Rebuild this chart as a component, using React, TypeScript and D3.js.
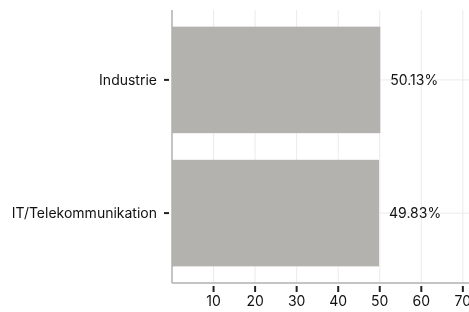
import React, { useEffect, useRef } from 'react';
import * as d3 from 'd3';

const categories = ['Industrie', 'IT/Telekommunikation'];
const values = [50.13, 49.83];
const xTicks = [10, 20, 30, 40, 50, 60, 70];

const App: React.FC = () => {
  const svgRef = useRef<SVGSVGElement>(null);

  useEffect(() => {
    if (!svgRef.current) return;
    const svg = d3.select(svgRef.current);
    svg.selectAll('*').remove();

    const width = 469;
    const height = 312;
    const left = 172;
    const top = 10;
    const bottom = 283;

    svg.attr('width', width).attr('height', height);

    const x = d3.scaleLinear().domain([0, 75]).range([left, left + 75 * 4.155]);
    const y = d3.scaleBand<string>()
      .domain(categories)
      .range([top, bottom])
      .paddingInner(0.2)
      .paddingOuter(0.125);

    const font = 'Inter, "Noto Sans", sans-serif';

    // grid
    const grid = svg.append('g');
    grid.selectAll('line.v')
      .data(xTicks)
      .join('line')
      .attr('x1', d => x(d)).attr('x2', d => x(d))
      .attr('y1', top).attr('y2', bottom)
      .style('stroke', '#ebebeb').style('stroke-width', 1);
    grid.selectAll('line.h')
      .data(categories)
      .join('line')
      .attr('x1', left).attr('x2', width)
      .attr('y1', d => (y(d) ?? 0) + y.bandwidth() / 2)
      .attr('y2', d => (y(d) ?? 0) + y.bandwidth() / 2)
      .style('stroke', '#ebebeb').style('stroke-width', 1);

    // bars
    svg.append('g')
      .selectAll('rect')
      .data(categories)
      .join('rect')
      .attr('x', x(0))
      .attr('y', d => y(d) ?? 0)
      .attr('width', (d, i) => x(values[i]) - x(0))
      .attr('height', y.bandwidth())
      .style('fill', '#b3b2ae');

    // value labels
    svg.append('g')
      .selectAll('text')
      .data(categories)
      .join('text')
      .attr('x', (d, i) => x(values[i]) + 10)
      .attr('y', d => (y(d) ?? 0) + y.bandwidth() / 2)
      .attr('dy', '0.35em')
      .style('font-family', font)
      .style('font-size', '14px')
      .style('fill', '#111')
      .text((d, i) => values[i].toFixed(2) + '%');

    // axes lines
    svg.append('line')
      .attr('x1', left).attr('x2', left)
      .attr('y1', top).attr('y2', bottom)
      .style('stroke', '#b0b0b0').style('stroke-width', 1.5);
    svg.append('line')
      .attr('x1', left).attr('x2', width)
      .attr('y1', bottom).attr('y2', bottom)
      .style('stroke', '#b0b0b0').style('stroke-width', 1.5);

    // y ticks + labels
    const yl = svg.append('g');
    categories.forEach(c => {
      const cy = (y(c) ?? 0) + y.bandwidth() / 2;
      yl.append('line')
        .attr('x1', left - 8).attr('x2', left - 3)
        .attr('y1', cy).attr('y2', cy)
        .style('stroke', '#222').style('stroke-width', 2);
      yl.append('text')
        .attr('x', left - 15)
        .attr('y', cy)
        .attr('dy', '0.35em')
        .attr('text-anchor', 'end')
        .style('font-family', font)
        .style('font-size', '14px')
        .style('fill', '#111')
        .text(c);
    });

    // x ticks + labels
    const xl = svg.append('g');
    xTicks.forEach(t => {
      xl.append('line')
        .attr('x1', x(t)).attr('x2', x(t))
        .attr('y1', bottom + 3).attr('y2', bottom + 9)
        .style('stroke', '#222').style('stroke-width', 2);
      xl.append('text')
        .attr('x', x(t))
        .attr('y', bottom + 18)
        .attr('dy', '0.35em')
        .attr('text-anchor', 'middle')
        .style('font-family', font)
        .style('font-size', '14px')
        .style('fill', '#111')
        .text(t);
    });
  }, []);

  return (
    <div style={{ position: 'fixed', left: 0, top: 0, width: 469, height: 312, overflow: 'hidden' }}>
      <svg ref={svgRef} style={{ display: 'block' }} />
    </div>
  );
};

export default App;
